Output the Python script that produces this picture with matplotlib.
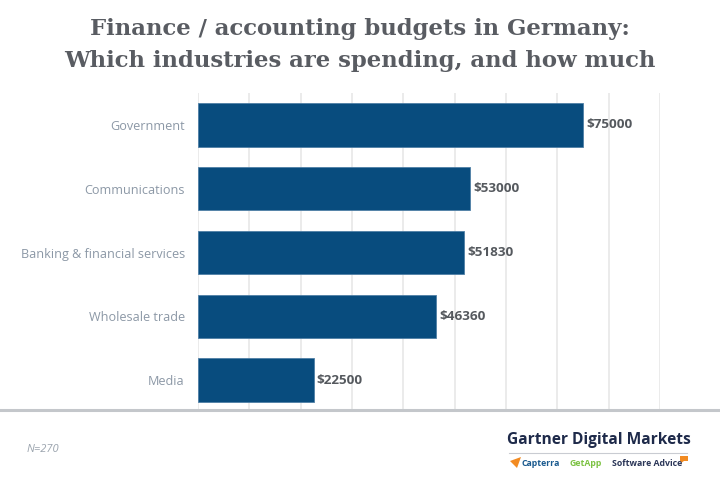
import matplotlib
matplotlib.use("Agg")
import matplotlib.pyplot as plt
from matplotlib.lines import Line2D
from matplotlib.patches import Polygon

# ── data ─────────────────────────────────────────────────────────
industries = ['Government', 'Communications', 'Banking & financial services',
              'Wholesale trade', 'Media']
budgets    = [75000, 53000, 51830, 46360, 22500]
grid_ticks = list(range(0, 90001, 10000))

TITLE      = 'Finance / accounting budgets in Germany:\nWhich industries are spending, and how much'
BAR_COLOR  = '#084c7e'
LABEL_GRAY = '#8c98a6'
TITLE_GRAY = '#595c62'

fig = plt.figure(figsize=(7.2, 4.86), dpi=100)
W, H = 720, 486

ax = fig.add_axes([198 / W, (H - 412) / H, (660 - 198) / W, (412 - 93) / H])
ypos = list(range(len(industries)))
ax.barh(ypos, budgets, height=0.68, color=BAR_COLOR,
        edgecolor='#4f7fa6', linewidth=0.6, zorder=3)

for y, v in zip(ypos, budgets):
    ax.text(v + 600, y, f'${v}', va='center', ha='left',
            fontsize=9.7, fontweight='bold', color='#55595e',
            family='Open Sans', zorder=4)

ax.set_xlim(0, 90000)
ax.set_ylim(len(industries) - 0.5, -0.5)
ax.set_xticks(grid_ticks)
ax.xaxis.grid(True, color='#e8e8e8', linewidth=1.2, zorder=0)
ax.set_axisbelow(True)
ax.tick_params(axis='x', length=0, labelbottom=False)
ax.tick_params(axis='y', length=0, pad=9.5)
ax.set_yticks(ypos)
ax.set_yticklabels(industries, fontsize=9.1, color=LABEL_GRAY, family='Open Sans')
for s in ax.spines.values():
    s.set_visible(False)

# bottom rule across the whole figure
fig.add_artist(Line2D([0, 1], [(H - 410) / H] * 2, color='#c4c7cb',
                      linewidth=2.2, transform=fig.transFigure))

# title
fig.text(0.5, (H - 45) / H, TITLE, ha='center', va='center',
         fontsize=16.4, fontweight='bold', color=TITLE_GRAY,
         family='DejaVu Serif', linespacing=1.58)

# sample size
fig.text(27 / W, (H - 449) / H, 'N=270', ha='left', va='center',
         fontsize=8, style='italic', color='#9aa3ad', family='Open Sans')

# footer logo
fig.text(599 / W, (H - 440) / H, 'Gartner Digital Markets', ha='center', va='center',
         fontsize=11.2, fontweight='bold', color='#1e2a4a', family='Open Sans')
fig.add_artist(Line2D([509 / W, 687 / W], [(H - 453) / H] * 2, color='#c9ccd2',
                      linewidth=0.8, transform=fig.transFigure))
fig.text(522 / W, (H - 463) / H, 'Capterra', ha='left', va='center',
         fontsize=6.3, fontweight='bold', color='#1a5a8f', family='Open Sans')
fig.text(570 / W, (H - 463) / H, 'GetApp', ha='left', va='center',
         fontsize=6.3, fontweight='bold', color='#7cc243', family='Open Sans')
fig.text(612 / W, (H - 463) / H, 'Software Advice', ha='left', va='center',
         fontsize=6.3, fontweight='bold', color='#2a3557', family='Open Sans')
# capterra arrow and software advice bubble
fig.add_artist(Polygon([[510 / W, (H - 461) / H], [521 / W, (H - 457) / H],
                        [517 / W, (H - 468) / H]], closed=True,
                       facecolor='#f28b22', edgecolor='none', transform=fig.transFigure))
fig.add_artist(Polygon([[680 / W, (H - 456) / H], [688 / W, (H - 456) / H],
                        [688 / W, (H - 461) / H], [684 / W, (H - 461) / H],
                        [681 / W, (H - 463) / H], [681 / W, (H - 461) / H],
                        [680 / W, (H - 461) / H]], closed=True,
                       facecolor='#f28b22', edgecolor='none', transform=fig.transFigure))

fig.savefig('out.png', dpi=100, facecolor='white')
